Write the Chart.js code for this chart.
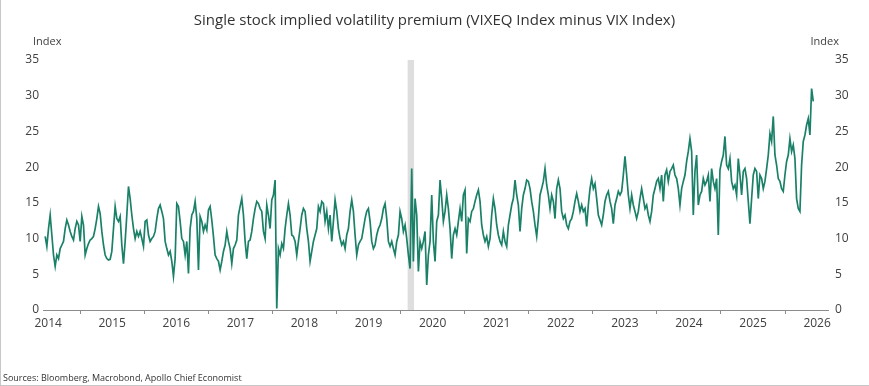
<!DOCTYPE html>
<html>
<head>
<meta charset="utf-8">
<script src="https://cdn.jsdelivr.net/npm/chart.js@4.4.1/dist/chart.umd.min.js"></script>
<style>
	html, body { margin: 0; padding: 0; background: #fff; }
	#wrap { position: relative; width: 869px; height: 386px; overflow: hidden; }
	#wrap canvas { position: absolute; left: 0; top: 0; }
	#title { position: absolute; left: 0; top: 9px; width: 869px; text-align: center; font: 15px "Open Sans", sans-serif; color: #333; }
	.unit { position: absolute; top: 33px; font: 11px "Open Sans", sans-serif; color: #404040; }
	#unitLeft { left: 33px; }
	#unitRight { right: 30px; }
	#source { position: absolute; left: 3px; top: 371px; font: 9px "Open Sans", sans-serif; color: #333; }
	.edge { position: absolute; background: #c8c8c8; }
</style>
</head>
<body>
<div id="wrap">
	<canvas id="lineChart" width="869" height="386"></canvas>
	<div id="title">Single stock implied volatility premium (VIXEQ Index minus VIX Index)</div>
	<div class="unit" id="unitLeft">Index</div>
	<div class="unit" id="unitRight">Index</div>
	<div id="source">Sources: Bloomberg, Macrobond, Apollo Chief Economist</div>
	<div class="edge" style="left:0;top:0;width:1px;height:386px"></div>
	<div class="edge" style="left:0;top:385px;width:869px;height:1px"></div>
</div>
<script>
// Etiquetas de los años (centradas en cada año) y marcas del eje Y
var yearLabels = ['2014', '2015', '2016', '2017', '2018', '2019', '2020', '2021', '2022', '2023', '2024', '2025', '2026'];
var yTicks = [0, 5, 10, 15, 20, 25, 30, 35];

// Periodo sombreado (recesión 2020), en años decimales
var recessionStart = 2020.11;
var recessionEnd = 2020.21;

// Serie: VIXEQ menos VIX, una lectura cada ~9.5 días
var startYear = 2014.454;
var stepYears = 0.026;
var premium = [
	10.3, 8.9, 11.4, 13.3, 10.5, 7.7, 6.1, 7.7, 7.2, 8.6, 9.1, 9.6, 11.4, 12.6, 11.9, 11.0, 10.3, 9.8, 11.4, 12.4,
	11.9, 9.6, 13.1, 11.9, 7.7, 8.6, 9.3, 9.8, 10.0, 10.3, 11.4, 12.8, 14.5, 13.5, 11.0, 9.1, 7.7, 7.2, 7.0, 7.1,
	8.2, 11.4, 14.5, 12.8, 12.4, 13.1, 9.1, 6.5, 9.6, 13.3, 17.3, 15.6, 13.3, 11.4, 10.0, 11.0, 10.3, 11.0, 10.0, 8.9,
	12.4, 12.6, 10.5, 9.6, 10.0, 10.3, 11.0, 12.8, 14.2, 14.7, 13.8, 12.8, 9.6, 8.6, 7.7,
	8.2, 6.8, 4.7, 7.2, 14.9, 14.5, 12.4, 10.0, 9.6, 7.7, 9.6, 5.1, 11.4, 13.3, 13.8, 15.2, 12.8, 5.6, 13.1, 12.4,
	11.0, 11.9, 11.2, 14.0, 14.5, 12.6, 10.3, 7.7, 7.2, 6.8, 5.6, 6.8, 8.2, 9.1, 11.0, 9.6, 8.6, 6.5, 8.6, 9.1,
	9.8, 13.3, 14.5, 15.6, 13.3, 9.6, 7.2, 9.6, 9.8, 11.0, 12.8, 14.2, 15.2, 14.9, 14.2, 13.8, 11.0, 10.0, 14.7, 13.3,
	11.4, 15.4, 16.1, 18.2, 0.2, 8.6, 7.7, 9.3, 8.6, 11.4, 13.3, 14.9, 13.3, 10.5, 10.3, 9.6, 7.7, 9.6,
	11.4, 13.3, 14.2, 13.8, 11.4, 9.6, 6.8, 8.2, 9.6, 10.5, 11.4, 14.5, 13.8, 15.2, 14.9, 12.4, 13.8, 11.4, 13.3, 9.6,
	12.4, 15.4, 13.8, 11.4, 10.0, 9.1, 9.6, 8.6, 10.5, 11.4, 13.8, 15.4, 13.8, 10.5, 7.7, 9.1, 9.6, 10.0, 11.4, 12.8,
	13.8, 14.2, 12.4, 9.6, 8.6, 9.1, 10.5, 11.4, 11.9, 12.8, 14.2, 14.9, 12.8, 9.6, 8.9, 9.6, 8.6, 7.7, 9.6, 10.5,
	13.8, 12.8, 11.0, 11.9, 10.0, 7.7, 5.8, 19.8, 6.8, 15.6, 13.3, 5.4, 9.6, 8.6, 9.6, 11.0, 3.5, 7.7,
	9.6, 16.1, 9.6, 6.8, 12.4, 13.3, 18.2, 15.6, 12.4, 13.8, 16.1, 14.2, 11.4, 7.2, 10.5, 11.4, 10.5, 12.4, 14.2, 12.4,
	16.1, 16.8, 7.9, 12.8, 12.4, 13.8, 14.2, 15.2, 16.1, 16.8, 15.2, 11.9, 10.5, 9.6, 10.3, 8.9, 10.0, 13.3, 15.6, 14.2,
	11.9, 10.5, 9.6, 9.1, 11.0, 9.6, 8.9, 11.9, 13.3, 14.7, 15.6, 18.2, 16.1, 14.7, 11.0, 14.2, 16.1, 17.0, 18.2, 18.0,
	17.0, 15.2, 13.8, 11.9, 10.3, 12.8, 16.1, 17.0, 18.0, 19.8, 17.5, 16.1, 14.2, 16.1, 15.2, 12.8, 17.0, 18.2,
	17.0, 13.8, 12.8, 13.3, 11.9, 11.4, 12.4, 12.8, 13.8, 15.2, 16.3, 15.2, 13.8, 14.7, 13.8, 14.2, 11.7, 14.7, 17.0, 18.4,
	17.0, 17.7, 15.6, 13.3, 12.6, 11.9, 13.3, 15.2, 16.1, 16.6, 15.2, 14.2, 12.1, 14.7, 15.6, 16.6, 16.1, 16.6, 18.9, 21.5,
	18.9, 16.1, 14.2, 16.1, 14.7, 13.8, 12.8, 13.8, 15.6, 17.0, 15.6, 14.2, 14.7, 13.3, 12.4, 13.8, 16.1, 17.0, 18.0, 18.4,
	17.0, 18.9, 15.2, 18.9, 19.6, 18.0, 19.4, 19.8, 20.3, 18.9, 18.4, 17.0, 14.7, 17.0, 18.0, 18.9, 20.8, 22.2,
	24.0, 22.2, 13.3, 19.4, 21.7, 14.7, 16.1, 16.6, 18.4, 17.5, 18.0, 18.9, 15.2, 19.8, 18.0, 17.0, 18.4, 10.5, 19.6, 20.8,
	21.7, 24.3, 20.3, 19.8, 21.2, 18.0, 17.0, 17.5, 16.1, 21.2, 18.9, 16.1, 19.4, 19.8, 18.4, 15.2, 12.1, 15.6, 18.9, 19.8,
	19.4, 15.6, 18.9, 18.4, 17.0, 18.0, 19.8, 21.7, 24.7, 23.6, 27.1, 21.7, 20.3, 18.4, 18.0, 17.0, 16.6, 18.9, 20.8, 21.7,
	24.0, 22.2, 23.1, 21.2, 15.6, 14.2, 13.8, 20.3, 23.6, 24.5, 25.9, 26.8, 24.5, 31.0, 29.2
];

var lineColor = '#1a8168';
var textColor = '#404040';
var axisColor = '#8c8c8c';
var tickFont = { family: 'Open Sans', size: 12 };

var points = premium.map(function(v, i) {
	return { x: startYear + i * stepYears, y: v };
});

// Banda gris detrás de la línea
var recessionBand = {
	id: 'recessionBand',
	beforeDatasetsDraw: function(chart) {
		var x = chart.scales.x;
		var area = chart.chartArea;
		var x1 = x.getPixelForValue(recessionStart);
		var x2 = x.getPixelForValue(recessionEnd);
		var ctx = chart.ctx;
		ctx.save();
		ctx.fillStyle = '#dedede';
		ctx.fillRect(x1, area.top, x2 - x1, area.bottom - area.top);
		ctx.restore();
	}
};

function yAxis(position, width, pad) {
	return {
		position: position,
		min: yTicks[0],
		max: yTicks[yTicks.length - 1],
		afterBuildTicks: function(scale) {
			scale.ticks = yTicks.map(function(v) { return { value: v }; });
		},
		ticks: { padding: pad, color: textColor, font: tickFont },
		grid: { display: false, drawTicks: false },
		border: { display: false },
		afterFit: function(scale) { scale.width = width; }
	};
}

new Chart(document.getElementById('lineChart').getContext('2d'), {
	type: 'line',
	data: {
		datasets: [{
			data: points,
			borderColor: lineColor,
			borderWidth: 1.7,
			pointRadius: 0,
			tension: 0,
			yAxisID: 'y'
		}]
	},
	options: {
		responsive: false,
		animation: false,
		events: [],
		layout: { padding: { top: 60, bottom: 54, left: 0, right: 0 } },
		plugins: { legend: { display: false }, tooltip: { enabled: false }, title: { display: false } },
		scales: {
			x: {
				type: 'linear',
				min: 2014.42,
				max: 2026.67,
				afterBuildTicks: function(scale) {
					var t = [];
					yearLabels.forEach(function(lbl) {
						var y = Number(lbl);
						t.push({ value: y });
						t.push({ value: y + 0.5 });
					});
					scale.ticks = t.filter(function(tk) { return tk.value >= scale.min && tk.value <= scale.max; });
				},
				ticks: {
					autoSkip: false,
					maxRotation: 0,
					padding: 2,
					color: textColor,
					font: tickFont,
					callback: function(v) { return (v % 1 !== 0) ? String(Math.floor(v)) : ''; }
				},
				grid: {
					drawOnChartArea: false,
					tickLength: 4,
					color: function(c) { return (c.tick && c.tick.value % 1 === 0) ? axisColor : 'rgba(0,0,0,0)'; }
				},
				border: { display: true, color: axisColor },
				afterFit: function(scale) { scale.height = 22; }
			},
			y: yAxis('left', 43, 4),
			y2: yAxis('right', 41, 7)
		}
	},
	plugins: [recessionBand]
});
</script>
</body>
</html>
